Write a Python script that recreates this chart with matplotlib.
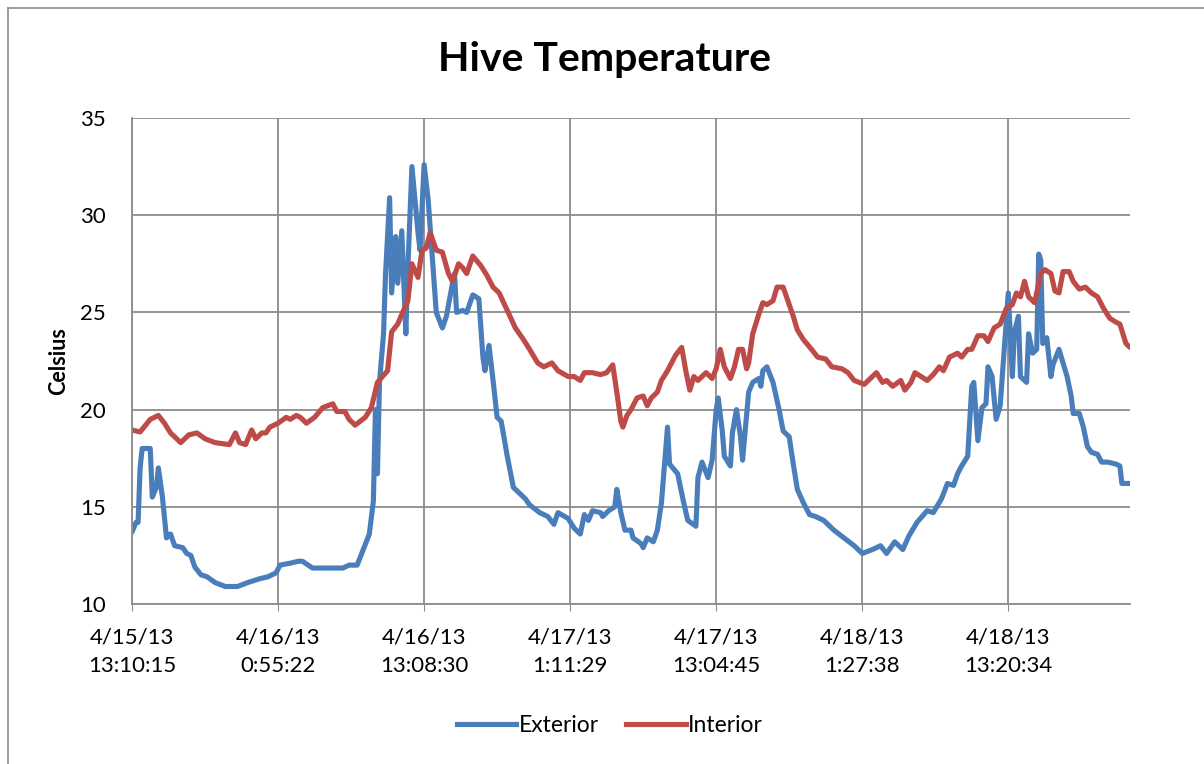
import matplotlib
matplotlib.use("Agg")
import matplotlib.pyplot as plt
from matplotlib.lines import Line2D

# sample numbers (readings every ~10 min) and temperatures
ext_idx = [0, 2, 3, 4, 5, 9, 10, 12, 13, 15, 17, 19, 21, 25, 27, 29, 31, 34, 37, 41,
           46, 52, 57, 63, 67, 71, 73, 78, 82, 84, 89, 94, 104, 107, 111, 114, 117, 119, 120, 121,
           122, 124, 125, 127, 128, 130, 131, 133, 135, 136, 138, 141, 142, 144, 146, 148, 150, 153, 155, 158,
           159, 160, 163, 165, 168, 171, 173, 174, 176, 178, 180, 182, 185, 188, 191, 194, 196, 201, 205, 208,
           210, 215, 218, 221, 223, 225, 227, 231, 232, 235, 238, 239, 241, 243, 246, 247, 251, 252, 254, 257,
           259, 261, 264, 265, 269, 272, 274, 278, 279, 281, 284, 286, 288, 289, 291, 292, 295, 296, 298, 300,
           301, 304, 306, 309, 310, 311, 313, 316, 319, 321, 324, 326, 328, 331, 334, 337, 341, 346, 351, 356,
           360, 365, 369, 372, 376, 380, 383, 387, 392, 395, 399, 402, 405, 407, 409, 412, 414, 415, 417, 419,
           421, 422, 424, 426, 428, 430, 432, 434, 435, 437, 438, 441, 442, 444, 446, 447, 448, 449, 451, 453,
           454, 457, 459, 461, 463, 464, 467, 469, 471, 473, 476, 478, 481, 485, 487, 488, 492]
exterior = [13.7, 14.2, 14.2, 17.0, 18.0, 18.0, 15.5, 16.0, 17.0, 15.5, 13.4, 13.6, 13.0, 12.9, 12.6, 12.5, 11.9, 11.5, 11.4, 11.1,
            10.9, 10.9, 11.1, 11.3, 11.4, 11.6, 12.0, 12.1, 12.2, 12.2, 11.85, 11.85, 11.85, 12.0, 12.0, 12.8, 13.6, 15.3, 20.0, 16.7,
            21.4, 23.9, 27.0, 30.9, 26.0, 28.9, 26.5, 29.2, 23.9, 27.3, 32.5, 29.1, 28.2, 32.6, 30.8, 27.9, 25.0, 24.2, 24.8, 26.5,
            27.0, 25.0, 25.1, 25.0, 25.9, 25.7, 22.7, 22.0, 23.3, 21.5, 19.6, 19.4, 17.6, 16.0, 15.7, 15.4, 15.1, 14.7, 14.5, 14.1,
            14.7, 14.4, 13.9, 13.6, 14.6, 14.3, 14.8, 14.7, 14.5, 14.8, 15.0, 15.9, 14.7, 13.8, 13.8, 13.4, 13.1, 12.9, 13.4, 13.2,
            13.8, 15.2, 19.1, 17.2, 16.7, 15.2, 14.3, 14.0, 16.5, 17.3, 16.5, 17.4, 20.0, 20.6, 18.9, 17.6, 17.1, 18.8, 20.0, 18.6,
            17.4, 20.9, 21.4, 21.6, 21.2, 22.0, 22.2, 21.4, 20.0, 18.9, 18.6, 17.2, 15.9, 15.2, 14.6, 14.5, 14.3, 13.8, 13.4, 13.0,
            12.6, 12.8, 13.0, 12.6, 13.2, 12.8, 13.5, 14.2, 14.8, 14.7, 15.4, 16.2, 16.1, 16.7, 17.1, 17.6, 21.2, 21.4, 18.4, 20.1,
            20.3, 22.2, 21.7, 19.5, 20.2, 23.1, 26.0, 21.7, 24.0, 24.8, 21.7, 21.4, 23.9, 22.9, 23.1, 28.0, 27.7, 23.4, 23.7, 21.7,
            22.3, 23.1, 22.4, 21.7, 20.7, 19.8, 19.8, 19.1, 18.1, 17.8, 17.7, 17.3, 17.3, 17.2, 17.1, 16.2, 16.2]

int_idx = [0, 4, 9, 13, 16, 19, 24, 28, 32, 36, 41, 48, 51, 53, 56, 59, 61, 64, 66, 68,
           72, 76, 78, 81, 83, 86, 90, 94, 99, 101, 105, 107, 110, 115, 118, 121, 126, 128, 131, 133,
           136, 138, 141, 143, 145, 147, 150, 153, 156, 158, 161, 163, 165, 168, 172, 175, 178, 181, 185, 189,
           193, 196, 200, 203, 207, 210, 215, 218, 221, 223, 227, 231, 234, 237, 239, 241, 242, 244, 246, 249,
           252, 254, 256, 259, 261, 264, 268, 271, 273, 275, 277, 279, 283, 286, 288, 290, 292, 295, 297, 299,
           301, 303, 304, 306, 309, 311, 313, 316, 318, 321, 324, 326, 328, 331, 335, 338, 342, 345, 350, 353,
           356, 361, 364, 367, 370, 372, 375, 379, 381, 384, 386, 389, 392, 395, 398, 400, 403, 407, 409, 412,
           414, 417, 420, 422, 425, 428, 431, 434, 436, 438, 440, 442, 445, 448, 450, 453, 455, 457, 459, 462,
           464, 467, 470, 473, 476, 479, 482, 485, 487, 490, 492]
interior = [18.95, 18.85, 19.5, 19.7, 19.3, 18.8, 18.3, 18.7, 18.8, 18.5, 18.3, 18.2, 18.8, 18.3, 18.2, 18.95, 18.5, 18.8, 18.8, 19.1,
            19.3, 19.6, 19.5, 19.7, 19.6, 19.3, 19.6, 20.1, 20.3, 19.9, 19.9, 19.5, 19.2, 19.6, 20.1, 21.4, 22.0, 24.0, 24.4, 24.9,
            25.6, 27.5, 26.8, 28.2, 28.3, 29.1, 28.2, 28.1, 27.0, 26.6, 27.5, 27.3, 27.0, 27.9, 27.4, 26.9, 26.3, 26.0, 25.1, 24.2,
            23.6, 23.1, 22.4, 22.2, 22.4, 22.0, 21.7, 21.7, 21.5, 21.9, 21.9, 21.8, 21.9, 22.3, 20.9, 19.4, 19.1, 19.7, 20.0, 20.6,
            20.7, 20.2, 20.6, 20.9, 21.5, 22.0, 22.8, 23.2, 22.0, 21.0, 21.7, 21.5, 21.9, 21.6, 22.1, 23.1, 22.2, 21.6, 22.2, 23.1,
            23.1, 22.1, 22.4, 23.9, 24.9, 25.5, 25.4, 25.6, 26.3, 26.3, 25.4, 24.8, 24.1, 23.6, 23.1, 22.7, 22.6, 22.2, 22.1, 21.9,
            21.5, 21.3, 21.6, 21.9, 21.4, 21.5, 21.2, 21.5, 21.0, 21.4, 21.9, 21.7, 21.5, 21.8, 22.2, 22.0, 22.7, 22.9, 22.7, 23.1,
            23.1, 23.8, 23.8, 23.5, 24.2, 24.4, 25.2, 25.4, 26.0, 25.8, 26.6, 25.8, 25.5, 27.0, 27.2, 27.0, 26.1, 26.0, 27.1, 27.1,
            26.6, 26.2, 26.3, 26.0, 25.8, 25.2, 24.7, 24.5, 24.4, 23.4, 23.2]

tick_pos = [0, 72, 144, 216, 288, 360, 432]
tick_labels = ["4/15/13\n13:10:15", "4/16/13\n0:55:22", "4/16/13\n13:08:30", "4/17/13\n1:11:29",
               "4/17/13\n13:04:45", "4/18/13\n1:27:38", "4/18/13\n13:20:34"]

plt.rcParams['font.family'] = ['Lato', 'DejaVu Sans']

blue = '#4A7EBB'
red = '#BE4B48'
grid = '#8C8C8C'

fig = plt.figure(figsize=(12.04, 7.64), dpi=100)
ax = fig.add_axes([132/1204, 1 - 604/764, 998/1204, 486/764])

ax.plot(ext_idx, exterior, color=blue, lw=3.7, solid_joinstyle='round', solid_capstyle='round', label='Exterior')
ax.plot(int_idx, interior, color=red, lw=3.7, solid_joinstyle='round', solid_capstyle='round', label='Interior')

ax.set_xlim(0, 492)
ax.set_ylim(10, 35)
ax.set_yticks(range(10, 36, 5))
ax.set_xticks(tick_pos)
ax.set_xticklabels(tick_labels, linespacing=1.5)
ax.tick_params(axis='x', length=5, color=grid, pad=12, labelsize=16)
ax.tick_params(axis='y', length=0, pad=19, labelsize=16)
ax.grid(True, color=grid, lw=1.3)
ax.set_axisbelow(True)
for s in ['top', 'right']:
    ax.spines[s].set_visible(False)
for s in ['left', 'bottom']:
    ax.spines[s].set_color(grid)
    ax.spines[s].set_linewidth(1.3)

ax.set_ylabel('Celsius', fontsize=15.5, fontweight='bold', labelpad=8)
fig.text(605/1204, 1 - 60/764, 'Hive Temperature', ha='center', va='center',
         fontsize=29.5, fontweight='bold')

handles = [Line2D([], [], color=blue, lw=3.7), Line2D([], [], color=red, lw=3.7)]
fig.legend(handles, ['Exterior', 'Interior'], loc='center', bbox_to_anchor=(610/1204, 1 - 726/764),
           ncol=2, frameon=False, fontsize=16.5, handlelength=2.6, handletextpad=0.1, columnspacing=1.2)

# chart area border
fig.add_artist(Line2D([8/1204, 8/1204], [0, 1 - 8/764], color='#8C8C8C', lw=1.2))
fig.add_artist(Line2D([8/1204, 1], [1 - 8/764, 1 - 8/764], color='#8C8C8C', lw=1.2))

fig.savefig('out.png', dpi=100)
